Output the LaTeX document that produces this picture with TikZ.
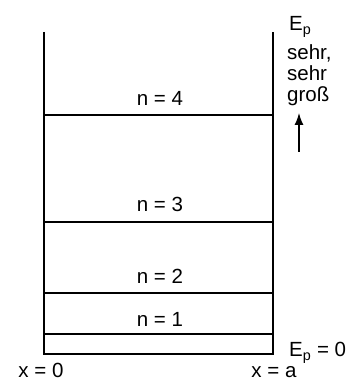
\documentclass[tikz,border=0pt]{standalone}
\usepackage{fontspec}
\setmainfont{Liberation Sans}
\usetikzlibrary{arrows.meta}
\begin{document}
\begin{tikzpicture}[x=1pt,y=1pt,
  wall/.style={line width=2pt},
  level/.style={line width=2pt},
  lbl/.style={font=\fontsize{20.5}{21}\selectfont, inner sep=0pt, anchor=base},
  arr/.style={line width=1.3pt,-{Latex[length=12pt,width=9pt]}}]
\useasboundingbox (0,0) rectangle (350,381);
% walls (y flipped: y = 381 - yimg)
\coordinate (LT) at (44,349);
\coordinate (LB) at (44,27);
\coordinate (RT) at (273,349);
\coordinate (RB) at (273,27);
\draw[wall] (LT) -- (LB) -- (RB) -- (RT);
% levels
\coordinate (L1a) at (44,47); \coordinate (L1b) at (273,47);
\coordinate (L2a) at (44,88); \coordinate (L2b) at (273,88);
\coordinate (L3a) at (44,159); \coordinate (L3b) at (273,159);
\coordinate (L4a) at (44,266); \coordinate (L4b) at (273,266);
\draw[level] (L1a) -- (L1b);
\draw[level] (L2a) -- (L2b);
\draw[level] (L3a) -- (L3b);
\draw[level] (L4a) -- (L4b);
\node[lbl] (n4) at (160,275) {n = 4};
\node[lbl] (n3) at (160,169) {n = 3};
\node[lbl] (n2) at (160,97) {n = 2};
\node[lbl] (n1) at (160,54) {n = 1};
\node[lbl] (x0) at (41,4) {x = 0};
\node[lbl] (xa) at (274,4) {x = a};
\node[lbl,anchor=base west] (ep0) at (289,24) {E\textsubscript{p} = 0};
\node[lbl,anchor=base west] (ep) at (289,350) {E\textsubscript{p}};
\node[lbl,anchor=base west] (s1) at (287,321) {sehr,};
\node[lbl,anchor=base west] (s2) at (287,300) {sehr};
\node[lbl,anchor=base west] (s3) at (287,279) {groß};
\coordinate (a1) at (299,229);
\coordinate (a2) at (299,268);
\draw[arr] (a1) -- (a2);
\end{tikzpicture}
\end{document}
